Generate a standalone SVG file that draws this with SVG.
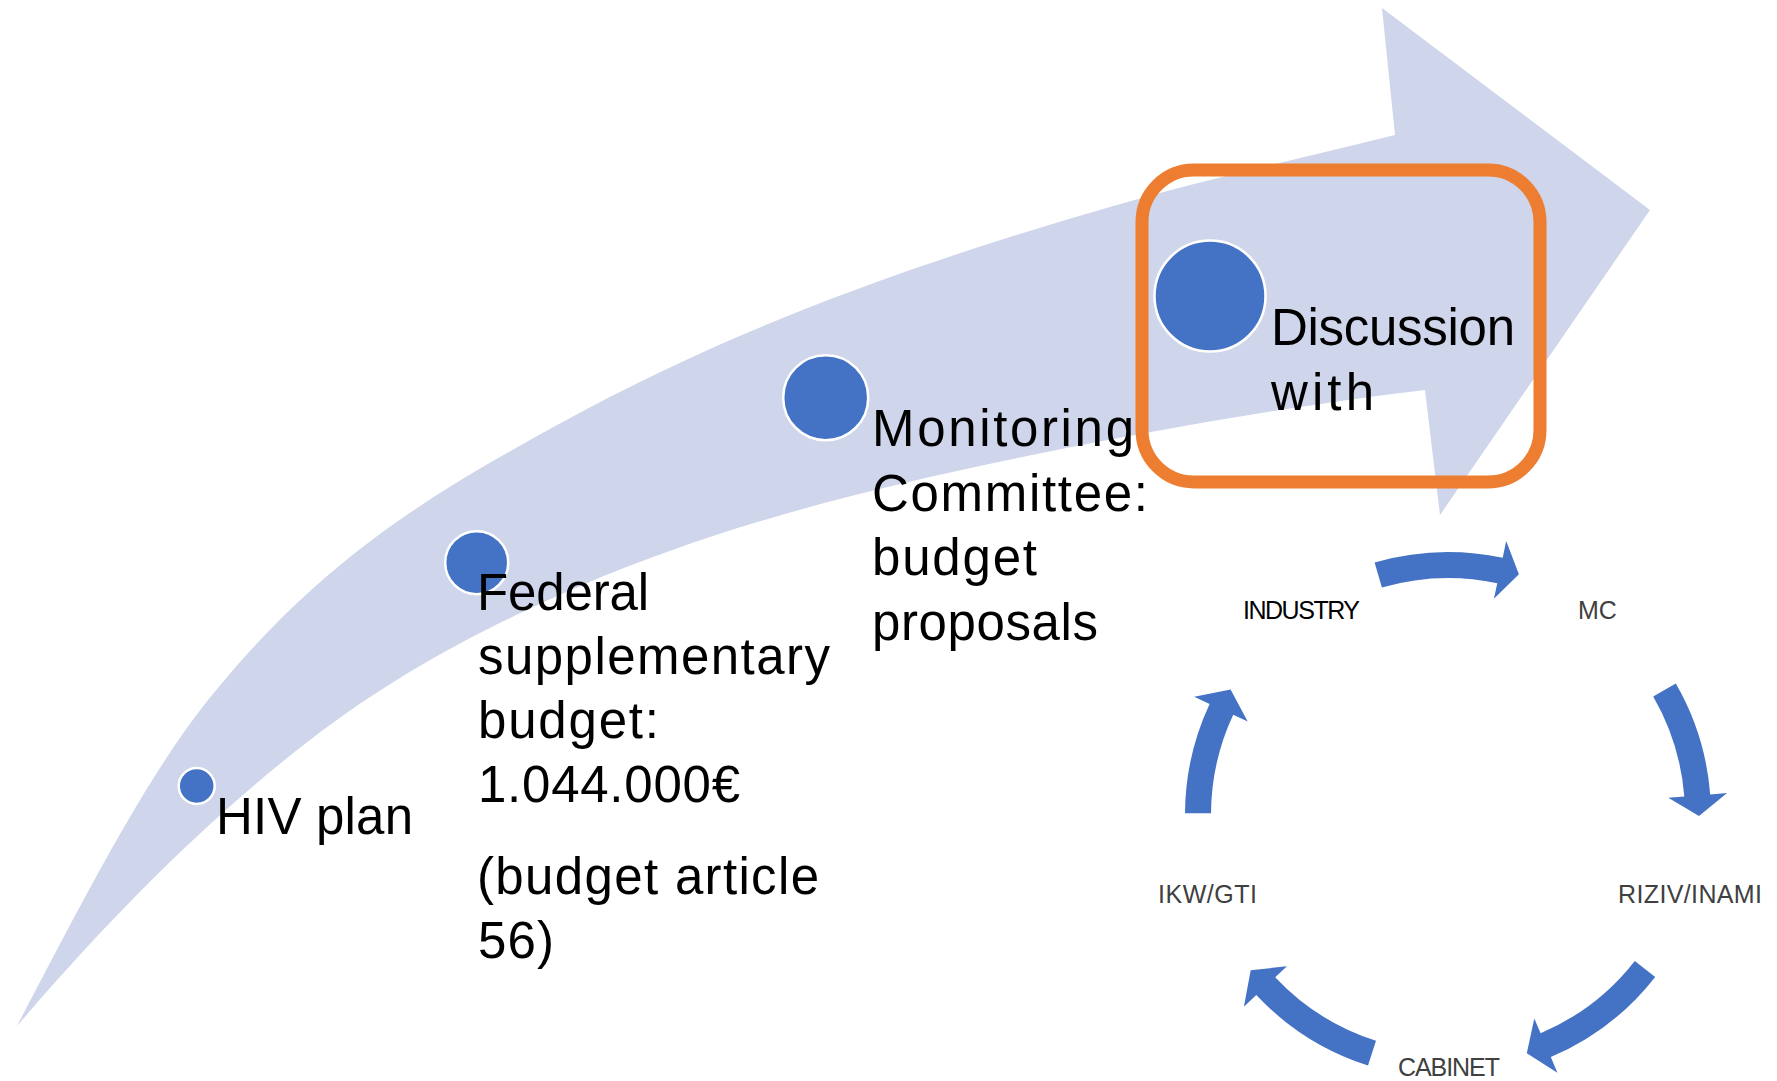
<svg xmlns="http://www.w3.org/2000/svg" width="1777" height="1081" viewBox="0 0 1777 1081">
<style>
.big{font-family:"Liberation Sans",Arial,sans-serif;font-size:51px;fill:#000}
.small{font-family:"Liberation Sans",Arial,sans-serif;font-size:25px;fill:#404040}
.dark{fill:#000}
.dot{fill:#4472C4;stroke:#fff;stroke-width:2.5}
.cyc{fill:#4472C4}
</style>
<rect width="1777" height="1081" fill="#fff"/>
<g id="timeline-arrow">
<path fill="#CFD5EA" d="M 17,1026 C 80.7,905 144.3,779.6 208,700 C 325,554 442,488.4 559,424 C 742.7,323 926.3,260.3 1110,207 C 1205,179.4 1300,158.75 1395,135 L 1382,8 L 1650,210 L 1440,515 L 1425,390 C 1286,406.7 1147,430.8 1008,460 C 864.7,490.1 721.3,525.4 578,587 C 488.7,625.4 399.3,671.2 310,740 C 212.3,815.2 114.7,911.7 17,1026 Z"/>
</g>
<g id="step-hiv">
<circle class="dot" cx="196.7" cy="786" r="18"/>
<text class="big" x="216" y="834" textLength="197">HIV plan</text>
</g>
<g id="step-federal">
<circle class="dot" cx="476.7" cy="562.7" r="31.5"/>
<text class="big" x="477" y="610" textLength="172">Federal</text>
<text class="big" x="478" y="674" textLength="352">supplementary</text>
<text class="big" x="478" y="738" textLength="181">budget:</text>
<text class="big" x="478" y="802" textLength="262">1.044.000€</text>
<text class="big" x="477" y="894" textLength="342">(budget article</text>
<text class="big" x="478" y="958" textLength="76">56)</text>
</g>
<g id="step-monitoring">
<circle class="dot" cx="825.7" cy="397.7" r="42.5"/>
<text class="big" x="872" y="446" textLength="262">Monitoring</text>
<text class="big" x="872" y="511" textLength="276">Committee:</text>
<text class="big" x="872" y="575" textLength="165">budget</text>
<text class="big" x="872" y="640" textLength="226">proposals</text>
</g>
<g id="step-discussion">
<circle class="dot" cx="1210" cy="296" r="55.5"/>
<text class="big" x="1271" y="345" textLength="244">Discussion</text>
<text class="big" x="1271" y="410" textLength="103">with</text>
</g>
<g id="highlight-box">
<rect x="1142" y="170" width="398" height="312" rx="52" ry="52" fill="none" stroke="#ED7D31" stroke-width="13"/>
</g>
<g id="node-industry"><text class="small dark" x="1243" y="618.5" textLength="117">INDUSTRY</text></g>
<g id="node-mc"><text class="small" x="1578" y="618.5">MC</text></g>
<g id="node-riziv"><text class="small" x="1618" y="903" textLength="144">RIZIV/INAMI</text></g>
<g id="node-cabinet"><text class="small" x="1398" y="1076" textLength="102">CABINET</text></g>
<g id="node-ikw"><text class="small" x="1158" y="903" textLength="99">IKW/GTI</text></g>
<g id="connectors">
<path class="cyc" d="M 1374.6,562.4 A 263 263 0 0 1 1502.7,557.8 L 1506.2,541.1 L 1518.9,574.2 L 1493.9,598.8 L 1497.3,583.2 A 237 237 0 0 0 1381.9,587.4 Z"/>
<path class="cyc" d="M 1675.8,683.5 A 263 263 0 0 1 1710.2,794.4 L 1727.1,793.0 L 1699,815.9 L 1668.3,797.7 L 1684.3,796.4 A 237 237 0 0 0 1653.2,696.5 Z"/>
<path class="cyc" d="M 1655.2,976.9 A 263 263 0 0 1 1550.8,1057.1 L 1557.4,1072.7 L 1526.8,1053.3 L 1534.3,1018.4 L 1540.6,1033.2 A 237 237 0 0 0 1634.8,960.9 Z"/>
<path class="cyc" d="M 1368.0,1065.6 A 263 263 0 0 1 1256.3,995.0 L 1243.9,1006.7 L 1250.7,970.2 L 1286.9,966.3 L 1275.2,977.2 A 237 237 0 0 0 1376.0,1040.8 Z"/>
<path class="cyc" d="M 1185,813.2 A 263 263 0 0 1 1209.6,703.9 L 1194.2,696.7 L 1230.6,689.5 L 1247.7,721.6 L 1233.2,714.8 A 237 237 0 0 0 1211,813.3 Z"/>
</g>
</svg>
